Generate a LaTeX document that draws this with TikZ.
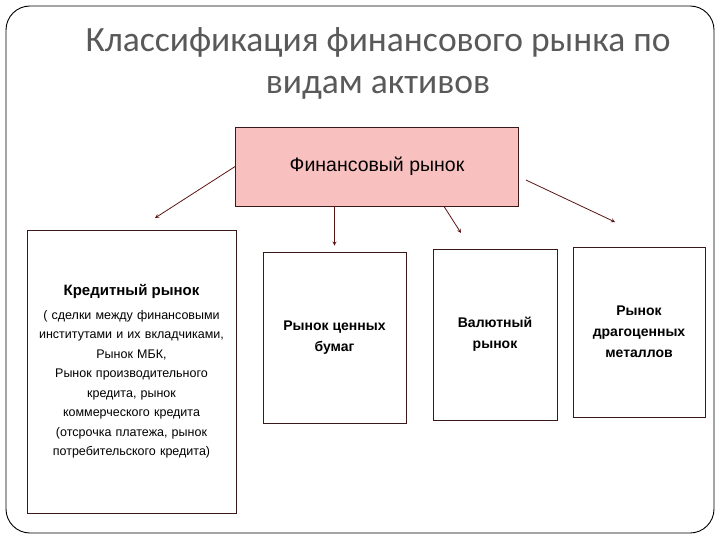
\documentclass[tikz,border=0pt]{standalone}
\usepackage{fontspec}
\setmainfont{Liberation Sans}
\newfontfamily\titulo{Carlito}
\usepackage{tikz}

\definecolor{rosa}{RGB}{249,192,192}
\definecolor{borde}{RGB}{60,25,25}
\definecolor{flecha}{RGB}{90,20,20}
\definecolor{grisTitulo}{RGB}{89,89,89}

\begin{document}
\begin{tikzpicture}[
    x=1pt, y=-1pt,
    % --- CAJAS: borde fino y texto centrado ---
    caja/.style={draw=borde, line width=0.8pt, fill=white, inner sep=2pt, align=center},
    cajaRaiz/.style={caja, fill=rosa, font=\fontsize{19.5}{22}\selectfont},
    cajaHoja/.style={caja, font=\bfseries\fontsize{14}{21}\selectfont},
    % --- FLECHAS ---
    flecha/.style={->, >=stealth, color=flecha, line width=0.8pt}
]
    \useasboundingbox (0,0) rectangle (720,540);

    % --- MARCO Y TITULO ---
    \draw[line width=0.9pt, rounded corners=24pt] (6,6) rectangle (714,533);
    \node[align=center, text=grisTitulo, font=\titulo\fontsize{35.5}{42}\selectfont] (titulo) at (378,63)
        {Классификация финансового рынка по\\видам активов};

    % --- NODOS ---
    \node[cajaRaiz, minimum width=283, minimum height=79] (raiz) at (377,166.5) {Финансовый рынок};

    \node[caja, minimum width=209, minimum height=283, text width=205,
          font=\fontsize{12.5}{19.5}\selectfont] (credito) at (131.5,371.5)
        {{\bfseries\fontsize{15}{19.5}\selectfont Кредитный рынок}\\[4pt]
         ( сделки между финансовыми\\
         институтами и их вкладчиками,\\
         Рынок МБК,\\
         Рынок производительного\\
         кредита, рынок\\
         коммерческого кредита\\
         (отсрочка платежа, рынок\\
         потребительского кредита)};

    \node[cajaHoja, minimum width=143, minimum height=171] (valores) at (334.5,337.5) {Рынок ценных\\бумаг};
    \node[cajaHoja, minimum width=124, minimum height=171] (divisas) at (495,334.5) {Валютный\\рынок};
    \node[cajaHoja, minimum width=132, minimum height=170] (metales) at (639,332) {Рынок\\драгоценных\\металлов};

    % --- EXTREMOS LIBRES DE LAS FLECHAS ---
    \coordinate (finCredito) at (155,218);
    \coordinate (finDivisas) at (461,233);
    \coordinate (finMetales) at (615,222);

    % --- FLECHAS ---
    \draw[flecha] (raiz.west) -- (finCredito);
    \draw[flecha, shorten >=6pt] (raiz.south -| valores.north) -- (valores.north);
    \draw[flecha] ([xshift=67pt]raiz.south) -- (finDivisas);
    \draw[flecha] ([xshift=7pt, yshift=-13.5pt]raiz.east) -- (finMetales);

\end{tikzpicture}
\end{document}
